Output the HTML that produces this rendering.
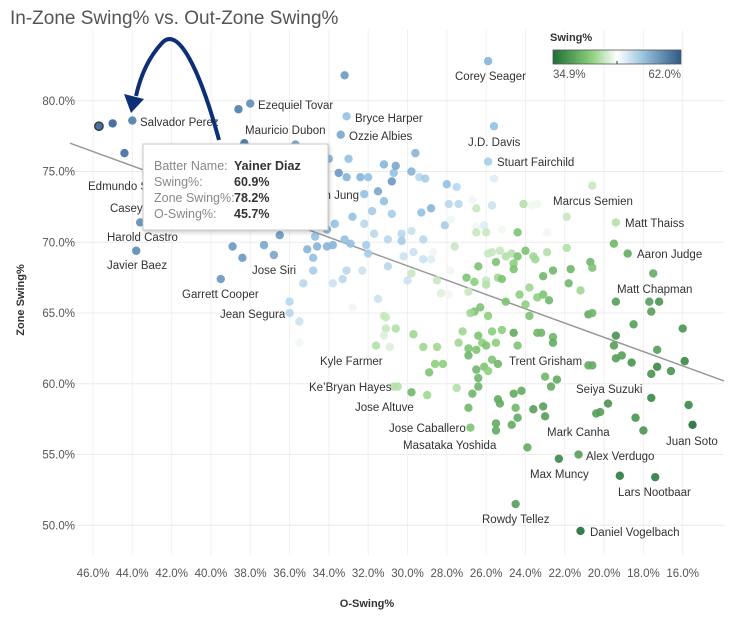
<!DOCTYPE html>
<html><head><meta charset="utf-8">
<style>
body{margin:0;background:#fff;font-family:"Liberation Sans",sans-serif;}
svg text{font-family:"Liberation Sans",sans-serif;}
</style></head>
<body>
<svg id="chart" width="740" height="618" xmlns="http://www.w3.org/2000/svg">
<defs>
<linearGradient id="grad" x1="0" x2="1" y1="0" y2="0">
<stop offset="0" stop-color="#1f6e36"/><stop offset="0.3" stop-color="#8ccf7d"/><stop offset="0.5" stop-color="#ffffff"/><stop offset="0.7" stop-color="#9cc4e0"/><stop offset="1" stop-color="#2d5a86"/>
</linearGradient>
<filter id="sh" x="-10%" y="-10%" width="130%" height="140%"><feDropShadow dx="1" dy="2" stdDeviation="2" flood-color="#000" flood-opacity="0.2"/></filter>
</defs>
<text x="10" y="24" font-size="19" fill="#555">In-Zone Swing% vs. Out-Zone Swing%</text>
<g id="grid"></g>
<g id="axes"></g>
<g id="trend"></g>
<g id="points"></g>
<g id="labels" font-size="11.5" fill="#333">
<text x="140" y="126">Salvador Perez</text>
<text x="258" y="109">Ezequiel Tovar</text>
<text x="245" y="134">Mauricio Dubon</text>
<text x="355" y="122">Bryce Harper</text>
<text x="349" y="140">Ozzie Albies</text>
<text x="455" y="80">Corey Seager</text>
<text x="468" y="146">J.D. Davis</text>
<text x="497" y="166">Stuart Fairchild</text>
<text x="553" y="205">Marcus Semien</text>
<text x="625" y="227">Matt Thaiss</text>
<text x="637" y="258">Aaron Judge</text>
<text x="617" y="293">Matt Chapman</text>
<text x="88" y="190">Edmundo Sosa</text>
<text x="110" y="212">Casey Schmitt</text>
<text x="107" y="241">Harold Castro</text>
<text x="107" y="269">Javier Baez</text>
<text x="182" y="298">Garrett Cooper</text>
<text x="252" y="274">Jose Siri</text>
<text x="220" y="318">Jean Segura</text>
<text x="290" y="199">Ji Hwan Jung</text>
<text x="320" y="365">Kyle Farmer</text>
<text x="309" y="391">Ke’Bryan Hayes</text>
<text x="355" y="411">Jose Altuve</text>
<text x="389" y="432">Jose Caballero</text>
<text x="403" y="449">Masataka Yoshida</text>
<text x="509" y="365">Trent Grisham</text>
<text x="576" y="393">Seiya Suzuki</text>
<text x="547" y="436">Mark Canha</text>
<text x="666" y="445">Juan Soto</text>
<text x="586" y="460">Alex Verdugo</text>
<text x="530" y="478">Max Muncy</text>
<text x="618" y="496">Lars Nootbaar</text>
<text x="482" y="523">Rowdy Tellez</text>
<text x="590" y="536">Daniel Vogelbach</text>
</g>
<g filter="url(#sh)">
<rect x="143" y="144" width="185" height="86" fill="#fff" stroke="#c8c8c8"/>
</g>
<g font-size="12.5">
<text x="154" y="170" fill="#888">Batter Name:</text><text x="234" y="170" fill="#333" font-weight="bold">Yainer Diaz</text>
<text x="154" y="186" fill="#888">Swing%:</text><text x="234" y="186" fill="#333" font-weight="bold">60.9%</text>
<text x="154" y="202" fill="#888">Zone Swing%:</text><text x="234" y="202" fill="#333" font-weight="bold">78.2%</text>
<text x="154" y="218" fill="#888">O-Swing%:</text><text x="234" y="218" fill="#333" font-weight="bold">45.7%</text>
</g>
<g>
<path d="M219,140 C200,70 178,25 162,43 C148,58 140,78 136,96" fill="none" stroke="#0d2f75" stroke-width="4"/>
<polygon points="124,94 144,99 131,113" fill="#0d2f75"/>
</g>
<g>
<text x="550" y="41" font-size="11" font-weight="bold" fill="#333">Swing%</text>
<rect x="553" y="50" width="128" height="14" fill="url(#grad)" stroke="#555" stroke-width="0.8"/>
<line x1="617" y1="61" x2="617" y2="64" stroke="#333"/>
<text x="553" y="78" font-size="11.5" fill="#555">34.9%</text>
<text x="681" y="78" font-size="11.5" fill="#555" text-anchor="end">62.0%</text>
</g>
<text x="367" y="607" font-size="11" font-weight="bold" fill="#333" text-anchor="middle">O-Swing%</text>
<text transform="translate(24,300) rotate(-90)" font-size="11" font-weight="bold" fill="#333" text-anchor="middle">Zone Swing%</text>
</svg>
<script>
const oSwing=[45.0,45.7,44.0,44.4,38.6,38.0,33.2,33.1,33.4,38.3,35.7,34.0,33.0,33.5,33.1,32.4,32.0,31.2,30.7,30.8,32.2,31.5,31.2,31.8,32.8,30.8,32.2,33.7,34.1,34.7,33.2,32.9,32.1,31.7,31.0,32.0,34.6,34.1,33.8,35.1,34.8,34.8,35.3,36.5,37.3,36.8,38.9,38.4,39.5,43.6,43.8,33.1,32.3,33.3,33.8,36.0,36.0,31.5,32.8,31.2,25.9,25.6,25.9,25.6,29.6,30.6,29.8,29.4,29.1,28.0,27.5,29.3,28.8,27.9,27.4,26.7,26.5,25.7,28.1,27.8,26.5,26.1,25.2,26.5,26.0,24.4,24.1,23.7,23.4,21.9,20.6,19.4,19.5,18.8,17.5,22.9,30.3,29.8,30.3,29.2,29.7,30.2,29.2,28.8,31.0,30.0,29.8,28.7,27.6,27.8,28.5,26.4,27.0,26.6,26.0,26.0,25.4,25.2,26.9,27.9,28.3,25.9,25.7,25.3,25.5,25.0,24.7,24.4,24.6,24.6,24.0,23.6,23.5,22.9,21.9,23.1,22.6,21.7,21.8,21.2,20.7,20.6,23.8,23.4,23.1,22.8,24.3,24.0,25.0,19.4,17.7,17.2,17.6,26.6,26.3,25.9,23.8,20.8,20.6,26.8,35.5,35.5,31.1,30.6,31.1,31.2,31.6,30.9,29.7,29.2,28.5,28.6,28.2,28.9,27.2,26.4,25.7,25.2,24.6,27.4,26.9,26.5,26.2,26.0,25.5,24.4,26.9,25.7,25.4,26.5,26.1,25.9,26.4,26.4,26.7,27.5,29.8,29.0,30.7,30.5,26.9,26.8,25.5,25.5,24.7,24.4,24.5,25.4,25.3,24.6,24.2,23.6,23.1,23.0,23.9,23.4,23.2,22.6,22.6,23.0,22.4,22.7,22.3,21.3,24.5,21.2,18.5,16.0,19.4,19.5,17.3,20.8,20.6,19.4,19.1,18.6,15.9,17.3,17.6,16.6,17.6,15.7,19.8,20.4,20.2,18.4,18.0,15.5,19.2,17.4];
const zSwing=[78.4,78.2,78.6,76.3,79.4,79.8,81.8,78.9,77.6,77.0,76.9,75.9,75.9,74.9,74.6,74.6,74.6,75.5,74.9,74.3,73.4,73.6,72.9,72.2,71.8,72.0,71.3,71.3,70.9,70.4,70.2,69.9,69.8,70.6,70.2,69.2,69.7,69.7,69.8,69.5,68.9,68.0,67.1,70.5,69.8,69.1,69.7,68.9,67.4,71.4,69.4,68.0,68.0,67.4,67.1,65.8,65.0,66.0,65.4,64.8,82.8,78.2,75.7,74.5,76.3,75.4,75.0,74.6,74.5,74.1,73.9,72.1,72.4,72.7,72.7,73.0,72.4,72.6,71.2,71.6,71.1,71.2,70.9,70.7,70.7,70.7,72.7,72.6,72.7,71.8,74.0,71.4,69.9,69.2,67.8,70.7,70.6,70.8,70.1,70.2,69.3,69.0,68.8,68.8,68.3,67.3,67.8,69.3,69.7,68.0,67.3,68.3,67.5,67.2,67.3,67.0,67.5,67.4,66.5,66.3,66.4,69.2,69.3,69.4,68.6,69.0,69.2,69.0,68.5,68.1,69.4,69.0,68.8,69.3,69.6,67.6,68.0,68.1,67.1,66.6,68.6,68.2,66.8,66.1,66.3,65.9,66.3,65.6,65.8,65.8,65.8,65.8,65.1,65.1,65.4,64.8,64.8,64.9,65.0,65.0,64.4,62.9,64.7,63.9,63.9,63.4,62.7,62.6,63.5,62.6,62.6,61.4,61.4,60.8,63.7,63.4,63.7,63.8,63.6,62.9,62.5,62.4,62.9,62.7,62.9,62.7,62.0,61.7,61.4,61.0,61.2,60.9,60.4,59.8,59.3,59.7,59.4,59.2,59.8,59.8,58.3,56.9,57.2,56.7,57.1,57.6,58.3,58.9,58.6,59.3,59.5,58.2,58.4,57.7,55.5,63.6,63.6,63.3,62.9,60.5,60.3,59.8,54.7,55.0,51.5,49.6,64.2,63.9,63.4,62.7,62.4,61.3,61.3,61.8,62.0,61.5,61.6,61.2,60.7,60.9,59.0,58.5,58.6,57.9,58.0,57.6,56.7,57.1,53.5,53.4];
const swing=[61,60.9,59,60,59,58,57,54,56,60,57,55,54,57,55,55,54,55,54,57,54,56,54,53,54,53,52,54,55,54,54,54,53,52,52,53,55,55,55,55,54,53,52,57,56,56,57,57,57,58,58,52,51,52,51,52,52,51,49,46,55,54,53,50,55,56,55,52,53,54,52,54,55,52,52,49,46,51,53,49,49,50,48,46,46,42,45,48,48,46,46,45,41,40,40,48,52,51,53,52,51,51,51,50,52,51,46,49,46,48,46,42,42,43,46,45,44,42,46,48,47,46,46,46,42,45,45,42,43,42,42,44,44,45,45,41,41,41,41,44,41,42,44,43,42,41,43,43,42,39,39,38,39,42,42,43,42,40,41,44,51,49,46,45,46,47,45,47,44,44,44,43,43,42,44,42,43,43,40,44,42,42,43,42,43,42,41,42,41,41,42,43,41,41,41,45,41,44,45,45,41,42,40,40,40,40,41,40,40,40,40,39,39,39,40,41,41,41,40,41,40,40,37,39,39,35,39,38,38,39,39,40,40,39,39,38,37,37,38,38,37,37,38,39,39,38,38,35,36,36];
const xTicks=[46,44,42,40,38,36,34,32,30,28,26,24,22,20,18,16];
const yTicks=[80,75,70,65,60,55,50];
const trendCoef=[53.18,0.505];
const colorRange=[34.9,62.0];
const highlightIndex=1;

const NS="http://www.w3.org/2000/svg";
const X0=70,X1=724,Y0=555,Y1=30;
const xDom=[47.17,13.9], yDom=[47.9,85.0];
const xs=v=>X0+(v-xDom[0])/(xDom[1]-xDom[0])*(X1-X0);
const ys=v=>Y0+(v-yDom[0])/(yDom[1]-yDom[0])*(Y1-Y0);
function mk(tag,attrs,parent){const e=document.createElementNS(NS,tag);for(const k in attrs)e.setAttribute(k,attrs[k]);parent.appendChild(e);return e;}
const stops=[[0,[31,110,54]],[0.3,[140,207,125]],[0.5,[250,252,250]],[0.7,[150,195,228]],[1,[38,84,140]]];
function color(v){let t=(v-colorRange[0])/(colorRange[1]-colorRange[0]);t=Math.max(0,Math.min(1,t));
for(let i=0;i<stops.length-1;i++){const a=stops[i],b=stops[i+1];if(t<=b[0]){const f=(t-a[0])/(b[0]-a[0]);return "rgb("+a[1].map((c,j)=>Math.round(c+(b[1][j]-c)*f)).join(",")+")";}}return "rgb(38,84,140)";}
const grid=document.getElementById('grid'),axes=document.getElementById('axes');
xTicks.forEach(t=>{
 const l=mk('line',{x1:xs(t),x2:xs(t),y1:Y1,y2:Y0,stroke:'#f0f0f0'},grid);
 
 
 const tx=mk('text',{x:xs(t),y:577,'font-size':11.5,fill:'#555','text-anchor':'middle'},axes);
 tx.textContent=t.toFixed(1)+'%';
 
 
});
yTicks.forEach(t=>{
 const l=mk('line',{x1:X0,x2:X1,y1:ys(t),y2:ys(t),stroke:'#ececec'},grid);
 
 
 const tx=mk('text',{x:75,y:ys(t)+4,'font-size':11.5,fill:'#555','text-anchor':'end'},axes);
 tx.textContent=t.toFixed(1)+'%';
 
 
});
const tl=mk('line',{x1:xs(xDom[0]),y1:ys(trendCoef[0]+trendCoef[1]*xDom[0]),x2:xs(xDom[1]),y2:ys(trendCoef[0]+trendCoef[1]*xDom[1]),stroke:'#999','stroke-width':1.5},document.getElementById('trend'));


const pg=document.getElementById('points');
oSwing.forEach((o,i)=>{
 const c=mk('circle',{cx:xs(o),cy:ys(zSwing[i]),r:4.2,fill:color(swing[i]),'fill-opacity':0.9},pg);
 if(i===highlightIndex){c.setAttribute('stroke','#333');c.setAttribute('stroke-width','1.3');}
 
 
});
</script>
</body></html>
